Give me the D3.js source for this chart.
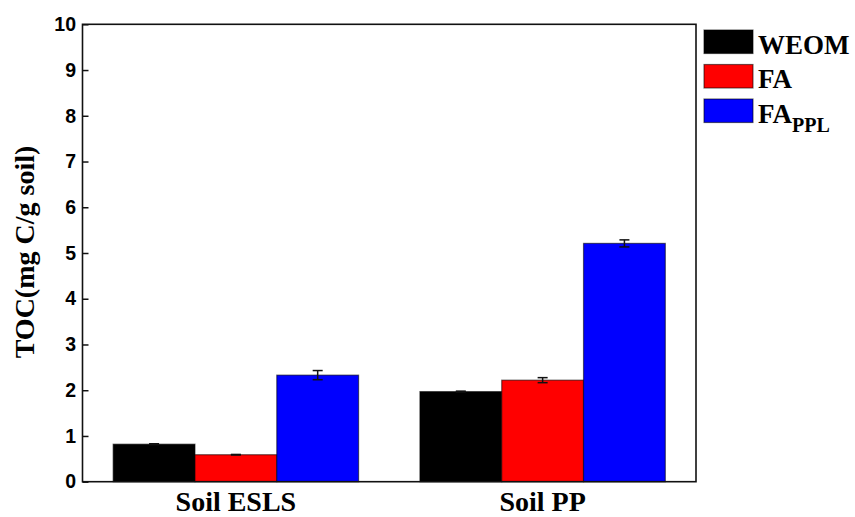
<!DOCTYPE html>
<html>
<head>
<meta charset="utf-8">
<script src="https://cdn.jsdelivr.net/npm/d3@7"></script>
<style>
  html, body { margin: 0; padding: 0; background: #fff; }
  svg { display: block; }
</style>
</head>
<body>
<svg id="chart" width="855" height="517"></svg>
<script>
// Soil samples on the x axis
const categories = ["Soil ESLS", "Soil PP"];
// Fractions, one bar per fraction in each soil group
const seriesKeys = ["WEOM", "FA", "FA_PPL"];
const seriesColors = ["#000000", "#ff0000", "#0000ff"];
// TOC values (mg C / g soil) and their standard errors, ordered by category
const weomValues = [0.82, 1.97];
const weomErrors = [0.01, 0.01];
const faValues = [0.59, 2.22];
const faErrors = [0.006, 0.055];
const faPplValues = [2.33, 5.21];
const faPplErrors = [0.10, 0.077];
const yTicks = [0, 1, 2, 3, 4, 5, 6, 7, 8, 9, 10];
const yTitle = "TOC(mg C/g soil)";

const valuesBySeries = [weomValues, faValues, faPplValues];
const errorsBySeries = [weomErrors, faErrors, faPplErrors];

const rows = [];
categories.forEach((cat, ci) => {
  seriesKeys.forEach((key, si) => {
    rows.push({ cat, key, si, value: valuesBySeries[si][ci], err: errorsBySeries[si][ci] });
  });
});

const svg = d3.select("#chart");
const plotLeft = 82.5, plotRight = 696, plotTop = 24.3, plotBottom = 481.7;

const x0 = d3.scaleBand().domain(categories).range([plotLeft, plotRight])
  .paddingInner(0.2).paddingOuter(0.1);
const x1 = d3.scaleBand().domain(seriesKeys).range([0, x0.bandwidth()]).padding(0);
const y = d3.scaleLinear().domain([0, 10]).range([plotBottom, plotTop]);
const color = d3.scaleOrdinal().domain(seriesKeys).range(seriesColors);

const serif = "'Liberation Serif', 'Times New Roman', serif";
const sans = "'Liberation Sans', Arial, sans-serif";

// Bars
svg.append("g").selectAll("rect").data(rows).join("rect")
  .attr("x", d => x0(d.cat) + x1(d.key))
  .attr("y", d => y(d.value))
  .attr("width", x1.bandwidth())
  .attr("height", d => y(0) - y(d.value))
  .attr("fill", d => color(d.key))
  .attr("stroke", "#000")
  .attr("stroke-opacity", 0.55)
  .attr("stroke-width", 1.2);

// Error bars
const eb = svg.append("g").attr("stroke", "#111").attr("stroke-width", 1.5);
rows.forEach(d => {
  const cx = x0(d.cat) + x1(d.key) + x1.bandwidth() / 2;
  const y1 = y(d.value + d.err), y2 = y(d.value - d.err);
  eb.append("line").attr("x1", cx).attr("x2", cx).attr("y1", y1).attr("y2", y2);
  eb.append("line").attr("x1", cx - 5).attr("x2", cx + 5).attr("y1", y1).attr("y2", y1);
  eb.append("line").attr("x1", cx - 5).attr("x2", cx + 5).attr("y1", y2).attr("y2", y2);
});

// Y axis with inward ticks
const yAxis = svg.append("g").attr("transform", `translate(${plotLeft},0)`)
  .call(d3.axisLeft(y).tickValues(yTicks).tickSize(-6).tickPadding(6.5).tickSizeOuter(0));
yAxis.select(".domain").remove();
yAxis.selectAll(".tick line").attr("stroke", "#111").attr("stroke-width", 1.5);
yAxis.selectAll(".tick text")
  .attr("font-family", sans).attr("font-weight", "bold").attr("font-size", 19.5)
  .attr("fill", "#000");

// X axis labels
const xAxis = svg.append("g").attr("transform", `translate(0,${plotBottom})`)
  .call(d3.axisBottom(x0).tickSize(0).tickPadding(11));
xAxis.select(".domain").remove();
xAxis.selectAll(".tick text")
  .attr("font-family", serif).attr("font-weight", "bold").attr("font-size", 28)
  .attr("fill", "#000").attr("dy", "0.66em");

// Frame
svg.append("rect")
  .attr("x", plotLeft).attr("y", plotTop)
  .attr("width", plotRight - plotLeft).attr("height", plotBottom - plotTop)
  .attr("fill", "none").attr("stroke", "#111").attr("stroke-width", 1.6);

// Y axis title
svg.append("text")
  .attr("transform", `translate(34,${(plotTop + plotBottom) / 2 - 1}) rotate(-90)`)
  .attr("text-anchor", "middle")
  .attr("font-family", serif).attr("font-weight", "bold").attr("font-size", 28)
  .attr("fill", "#000")
  .text(yTitle);

// Legend
const legend = svg.append("g").attr("transform", "translate(704,30)");
const lg = legend.selectAll("g").data(seriesKeys).join("g")
  .attr("transform", (d, i) => `translate(0,${i * 34.5})`);
lg.append("rect")
  .attr("width", 49).attr("height", 23.5)
  .attr("fill", d => color(d))
  .attr("stroke", "#000").attr("stroke-opacity", 0.55).attr("stroke-width", 1.2);
const lt = lg.append("text")
  .attr("x", 54).attr("y", 23.5)
  .attr("font-family", serif).attr("font-weight", "bold").attr("font-size", 27)
  .attr("fill", "#000");
lt.each(function (d) {
  const t = d3.select(this);
  if (d === "FA_PPL") {
    t.append("tspan").text("FA");
    t.append("tspan").attr("font-size", 20).attr("dy", 9).text("PPL");
  } else {
    t.text(d);
  }
});
</script>
</body>
</html>
